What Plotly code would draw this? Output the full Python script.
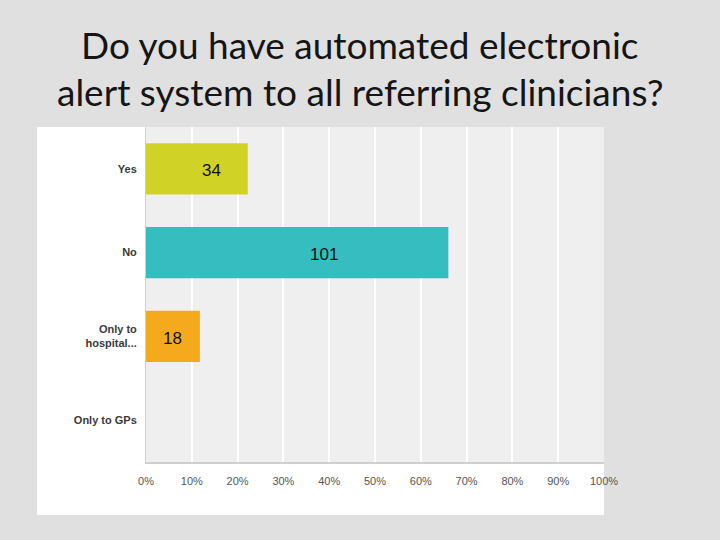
import plotly.graph_objects as go

title_lines = ["Do you have automated electronic", "alert system to all referring clinicians?"]
categories = ["Yes", "No", "Only to<br>hospital...", "Only to GPs"]
counts = [34, 101, 18, 0]
bar_colors = ["#d0d326", "#35bdc0", "#f5aa1e", "#cccccc"]
tick_vals = [0, 0.1, 0.2, 0.3, 0.4, 0.5, 0.6, 0.7, 0.8, 0.9, 1.0]
tick_text = ["0%", "10%", "20%", "30%", "40%", "50%", "60%", "70%", "80%", "90%", "100%"]
label_shift = [15, 27, 0, 0]  # pixel nudges of count labels (style)

total = sum(counts)
pct = [c / total for c in counts]

fig = go.Figure()
fig.add_trace(go.Bar(
    y=categories, x=pct, orientation="h",
    marker=dict(color=bar_colors, line=dict(width=0)),
    hoverinfo="skip",
))

L, R, T, B = 146, 116, 127, 78
W, H = 720 - L - R, 540 - T - B
def px_x(v):
    return (v - L) / W
def px_y(v):
    return (540 - B - v) / H

# count labels
for cat, p, c, s in zip(categories, pct, counts, label_shift):
    if c > 0:
        fig.add_annotation(x=p / 2, y=cat, xref="x", yref="y", text=str(c),
                           showarrow=False, xshift=s, yshift=-2,
                           font=dict(family="Liberation Sans", size=17, color="#111111"))

# title
for i, line in enumerate(title_lines):
    fig.add_annotation(x=px_x(360), y=px_y([45, 91][i]), xref="paper", yref="paper",
                       text=line, showarrow=False, xanchor="center", yanchor="middle",
                       font=dict(family="Lato", size=37, color="#151515"))

# white chart box and grey plot background
fig.add_shape(type="rect", xref="paper", yref="paper",
              x0=px_x(37), x1=px_x(604), y0=px_y(515), y1=px_y(127),
              fillcolor="white", line=dict(width=0), layer="below")
fig.add_shape(type="rect", xref="paper", yref="paper",
              x0=0, x1=1, y0=0, y1=1,
              fillcolor="#efefef", line=dict(width=0), layer="below")

fig.update_layout(
    width=720, height=540,
    margin=dict(l=L, r=R, t=T, b=B),
    paper_bgcolor="#e0e0e0",
    plot_bgcolor="rgba(0,0,0,0)",
    showlegend=False,
    bargap=0.39,
    xaxis=dict(range=[0, 1], tickvals=tick_vals, ticktext=tick_text,
               showgrid=True, gridcolor="#ffffff", gridwidth=1.5, zeroline=False,
               showline=True, linecolor="#cfcfcf", linewidth=2,
               ticks="outside", ticklen=8, tickcolor="rgba(0,0,0,0)",
               tickfont=dict(family="Liberation Sans", size=11, color="#555555"),
               fixedrange=True),
    yaxis=dict(autorange="reversed", showgrid=False, zeroline=False,
               showline=True, linecolor="#cfcfcf", linewidth=1,
               ticks="outside", ticklen=6, tickcolor="rgba(0,0,0,0)",
               tickfont=dict(family="Liberation Sans", size=11, color="#3a3a3a",
                             weight="bold"),
               fixedrange=True),
)

fig.write_html("out.html", config={"displayModeBar": False},
               post_script="document.body.style.margin='0';")
